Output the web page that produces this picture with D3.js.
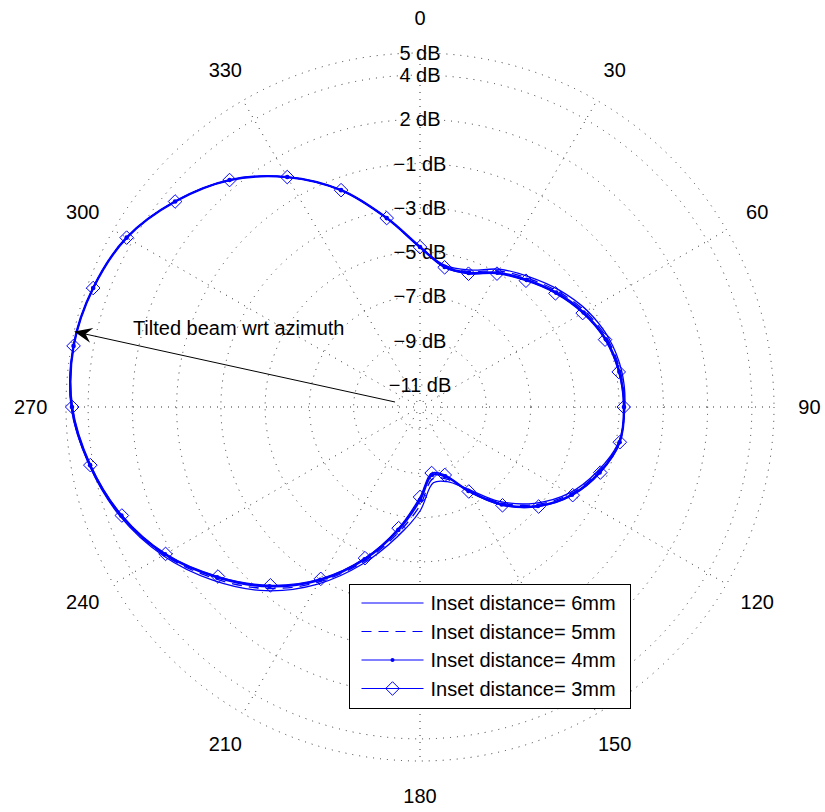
<!DOCTYPE html>
<html>
<head>
<meta charset="utf-8">
<script src="https://cdn.jsdelivr.net/npm/d3@7"></script>
<style>
  body { margin: 0; background: #fff; }
  text { font-family: "Liberation Sans", Arial, Helvetica, sans-serif; fill: #000; }
</style>
</head>
<body>
<svg id="chart" width="825" height="812"></svg>
<script>
// Azimuth samples (degrees, clockwise from top)
const angles = d3.range(0, 360, 10);

// Radiation pattern (dB) for each inset distance, one value per azimuth sample
const inset6mm = [-4.77, -5.50, -5.41, -4.81, -4.32, -3.78, -3.28, -2.92, -2.74, -2.74,
                  -2.88, -3.47, -4.21, -5.23, -6.43, -7.73, -8.41, -8.52, -7.30, -6.03,
                  -4.46, -2.76, -1.16, 0.19, 1.42, 2.43, 3.18, 3.77, 3.90, 3.72,
                  3.31, 2.45, 1.39, 0.00, -1.57, -3.33];
const inset5mm = [-4.77, -5.54, -5.48, -4.90, -4.41, -3.87, -3.37, -2.99, -2.80, -2.76,
                  -2.86, -3.41, -4.14, -5.14, -6.34, -7.67, -8.54, -8.70, -7.55, -6.20,
                  -4.57, -2.87, -1.29, 0.08, 1.36, 2.39, 3.16, 3.75, 3.90, 3.72,
                  3.31, 2.45, 1.39, 0.00, -1.57, -3.33];
const inset4mm = [-4.77, -5.57, -5.55, -4.99, -4.50, -3.96, -3.46, -3.06, -2.85, -2.78,
                  -2.84, -3.36, -4.07, -5.04, -6.25, -7.62, -8.67, -8.88, -7.80, -6.36,
                  -4.68, -2.98, -1.42, -0.03, 1.31, 2.36, 3.14, 3.73, 3.90, 3.72,
                  3.31, 2.45, 1.39, 0.00, -1.57, -3.33];
const inset3mm = [-4.77, -5.59, -5.59, -5.04, -4.55, -4.01, -3.51, -3.10, -2.88, -2.79,
                  -2.83, -3.33, -4.03, -5.00, -6.20, -7.59, -8.73, -8.97, -7.93, -6.44,
                  -4.73, -3.03, -1.48, -0.08, 1.28, 2.34, 3.13, 3.72, 3.90, 3.72,
                  3.31, 2.45, 1.39, 0.00, -1.57, -3.33];

const seriesLabels = ["Inset distance= 6mm", "Inset distance= 5mm",
                      "Inset distance= 4mm", "Inset distance= 3mm"];

// Grid rings and their labels
const ringValues = [-11, -9, -7, -5, -3, -1, 1, 3, 4];
const ringLabels = ["\u221211 dB", "\u22129 dB", "\u22127 dB", "\u22125 dB", "\u22123 dB",
                    "\u22121 dB", "2 dB", "4 dB", "5 dB"];
const spokeAngles = d3.range(0, 360, 30);
const spokeLabels = spokeAngles.map(String);

// Annotation
const annotationText = "Tilted beam wrt azimuth";
const arrowFrom = { angle: 281.3, db: -10.85 };
const arrowTo = { angle: 282.3, db: 4 };
const annotationAt = { angle: 284.1, db: 1.38 };

// ---------------------------------------------------------------
const W = 825, H = 812;
const cx = 420, cy = 407, R = 354;
const blue = "#0000ff";

const svg = d3.select("#chart");
const g = svg.append("g").attr("transform", `translate(${cx},${cy})`);

const r = d3.scaleLinear().domain([-12, 4]).range([0, R]);
const theta = d3.scaleLinear().domain([0, 360]).range([0, 2 * Math.PI]);

function pt(angleDeg, db) {
  const rr = r(db), t = theta(angleDeg);
  return [rr * Math.sin(t), -rr * Math.cos(t)];
}

// Grid: dotted rings
const grid = g.append("g").attr("class", "grid")
  .attr("fill", "none").attr("stroke", "#333").attr("stroke-width", 1)
  .attr("stroke-dasharray", "1 6");
grid.selectAll("circle").data(ringValues).join("circle")
  .attr("r", d => r(d));

// Grid: dotted spokes, drawn outward from the centre
grid.selectAll("line").data(spokeAngles).join("line")
  .attr("x1", 0).attr("y1", 0)
  .attr("x2", d => pt(d, 4)[0]).attr("y2", d => pt(d, 4)[1])
  .attr("stroke-dashoffset", -6);

// Ring labels along the vertical axis
g.append("g").selectAll("text").data(ringValues).join("text")
  .attr("x", 0).attr("y", d => -r(d))
  .attr("text-anchor", "middle").attr("dominant-baseline", "central")
  .attr("font-size", 20)
  .text((d, i) => ringLabels[i]);

// Azimuth labels
g.append("g").selectAll("text").data(spokeAngles).join("text")
  .attr("x", d => 1.1 * R * Math.sin(theta(d)))
  .attr("y", d => -1.1 * R * Math.cos(theta(d)))
  .attr("text-anchor", "middle").attr("dominant-baseline", "central")
  .attr("font-size", 20)
  .text((d, i) => spokeLabels[i]);

// Pattern curves
const radial = d3.lineRadial()
  .angle(d => theta(d[0]))
  .radius(d => r(d[1]))
  .curve(d3.curveCatmullRomClosed.alpha(0.5));

const series = [
  { values: inset6mm, dash: null, width: 1.3 },
  { values: inset5mm, dash: "10 7", width: 1.3 },
  { values: inset4mm, dash: null, width: 2.4, dots: true },
  { values: inset3mm, dash: null, width: 1.3, diamonds: true }
];

const diamondPath = s => `M0,${-s}L${s},0L0,${s}L${-s},0Z`;

const plot = g.append("g").attr("class", "series");
series.forEach(s => {
  const pts = angles.map((a, i) => [a, s.values[i]]);
  plot.append("path")
    .attr("d", radial(pts))
    .attr("fill", "none").attr("stroke", blue)
    .attr("stroke-width", s.width)
    .attr("stroke-dasharray", s.dash);
  if (s.dots) {
    plot.append("g").selectAll("circle").data(pts).join("circle")
      .attr("cx", d => pt(d[0], d[1])[0]).attr("cy", d => pt(d[0], d[1])[1])
      .attr("r", 2.3).attr("fill", blue);
  }
  if (s.diamonds) {
    plot.append("g").selectAll("path").data(pts).join("path")
      .attr("transform", d => `translate(${pt(d[0], d[1])})`)
      .attr("d", diamondPath(6.8))
      .attr("fill", "none").attr("stroke", blue).attr("stroke-width", 1);
  }
});

// Annotation arrow
const [x0, y0] = pt(arrowFrom.angle, arrowFrom.db);
const [x1, y1] = pt(arrowTo.angle, arrowTo.db);
const ang = Math.atan2(y1 - y0, x1 - x0);
const headLen = 18, headW = 7.5;
g.append("line")
  .attr("x1", x0).attr("y1", y0)
  .attr("x2", x1 - headLen * 0.6 * Math.cos(ang))
  .attr("y2", y1 - headLen * 0.6 * Math.sin(ang))
  .attr("stroke", "#000").attr("stroke-width", 1);
g.append("path")
  .attr("transform", `translate(${x1},${y1}) rotate(${ang * 180 / Math.PI})`)
  .attr("d", `M0,0L${-headLen},${-headW}L${-headLen * 0.65},0L${-headLen},${headW}Z`)
  .attr("fill", "#000");

const [tx, ty] = pt(annotationAt.angle, annotationAt.db);
g.append("text")
  .attr("x", tx).attr("y", ty)
  .attr("font-size", 20)
  .text(annotationText);

// Legend
const legend = svg.append("g").attr("transform", "translate(349.5,584.5)");
legend.append("rect")
  .attr("width", 281).attr("height", 124)
  .attr("fill", "#fff").attr("stroke", "#000").attr("stroke-width", 1);
const rowY = i => 18.5 + i * 28.5;
series.forEach((s, i) => {
  const row = legend.append("g").attr("transform", `translate(0,${rowY(i)})`);
  row.append("line")
    .attr("x1", 12).attr("x2", 74)
    .attr("stroke", blue).attr("stroke-width", 1.2)
    .attr("stroke-dasharray", s.dash);
  if (s.dots) row.append("circle").attr("cx", 43).attr("r", 2).attr("fill", blue);
  if (s.diamonds) row.append("path").attr("transform", "translate(43,0)")
    .attr("d", diamondPath(6.8)).attr("fill", "none").attr("stroke", blue);
  row.append("text")
    .attr("x", 81).attr("y", 0)
    .attr("dominant-baseline", "central")
    .attr("font-size", 20)
    .text(seriesLabels[i]);
});
</script>
</body>
</html>
